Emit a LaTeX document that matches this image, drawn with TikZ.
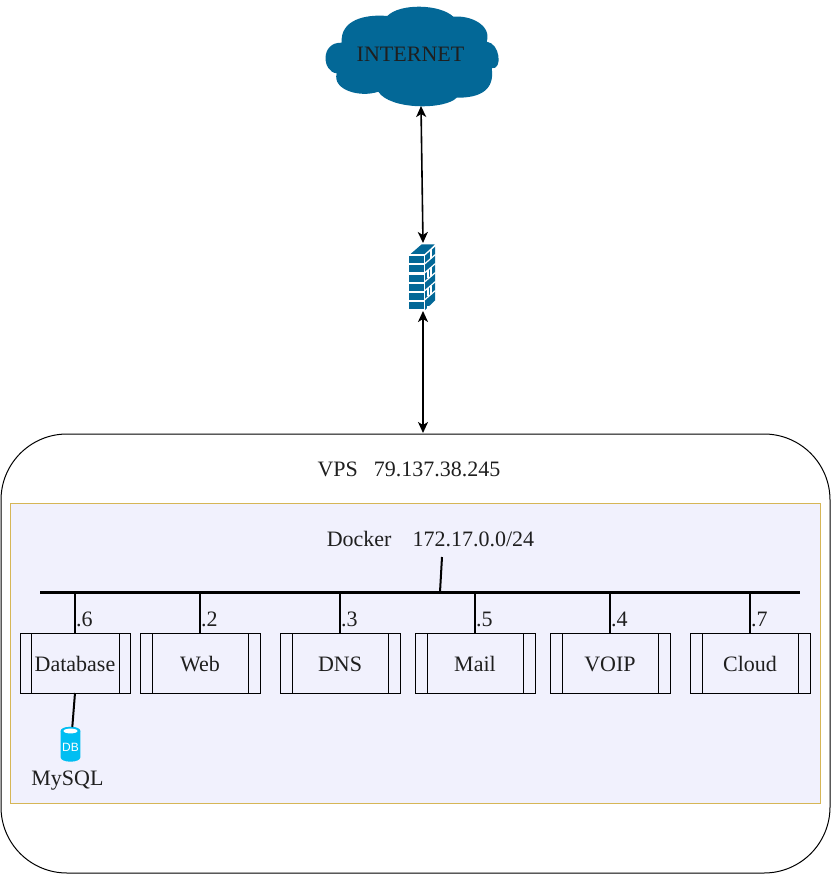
\documentclass[tikz,border=0pt]{standalone}
\usepackage{fontspec}
\setmainfont{Liberation Serif}
\newfontfamily\iconfont{Liberation Sans}
\usetikzlibrary{arrows.meta,calc,positioning}
\definecolor{cloudblue}{HTML}{036897}
\definecolor{dockerfill}{HTML}{F1F1FD}
\definecolor{dockerline}{HTML}{D6B656}
\definecolor{dbblue}{HTML}{00BEF2}
\tikzset{
    lbl/.style={font=\fontsize{22}{24}\selectfont, text=black!88, inner sep=0pt},
    procbox/.style={draw, lbl, minimum width=#1, minimum height=60pt, outer sep=0pt, line width=1pt,
        text height=16pt, text depth=0pt,
        path picture={
            \draw ($(path picture bounding box.north west)!0.1!(path picture bounding box.north east)$)
                -- ($(path picture bounding box.south west)!0.1!(path picture bounding box.south east)$);
            \draw ($(path picture bounding box.north west)!0.9!(path picture bounding box.north east)$)
                -- ($(path picture bounding box.south west)!0.9!(path picture bounding box.south east)$);
        }},
    link/.style={line width=2pt},
    dblarrow/.style={line width=1.6pt, {Stealth[length=11pt,width=10pt,inset=3pt]}-{Stealth[length=11pt,width=10pt,inset=3pt]}}
}
\begin{document}
\begin{tikzpicture}[x=1pt,y=-1pt,node distance=120pt,on grid]
    \useasboundingbox (0,0) rectangle (831,882);
    % outer boxes
    \node[draw, line width=1pt, rounded corners=66pt, minimum width=829pt, minimum height=439pt, outer sep=0pt] (vps) at (415.5,653.5) {};
    \node[draw=dockerline, fill=dockerfill, line width=1pt, minimum width=810pt, minimum height=300pt, outer sep=0pt] (docker) at (415,653) {};
    \node[lbl] (vpslabel) at (409,469) {VPS\hspace{16pt}79.137.38.245};
    \node[lbl] (dockerlabel) at (430.5,539) {Docker\hspace{21pt}172.17.0.0/24};
    % cloud
    \fill[cloudblue] (387.3,16) .. controls (400,3) and (440,4) .. (453.3,16.7)
        .. controls (470,15) and (492,25) .. (486.7,41.7)
        .. controls (500,43) and (503,70) .. (491.7,68.3)
        .. controls (495,90) and (480,98) .. (456.7,97.7)
        .. controls (445,110) and (390,110) .. (378.3,91.7)
        .. controls (360,98) and (332,90) .. (336.7,73.3)
        .. controls (322,72) and (320,42) .. (341.7,42.7)
        .. controls (340,20) and (365,14) .. (387.3,16) -- cycle;
    \node[lbl] (internet) at (410.5,54) {INTERNET};
    \coordinate (cloudbot) at (421,106);
    % firewall
    \fill[cloudblue] (410.5,254) -- (421.5,244.5) -- (434.5,244.5) -- (425,254) -- cycle;
    \foreach \rowy in {256,265,274.5,283.5,292.5,302}
        \fill[cloudblue] (408.5,\rowy) rectangle ++(15,7.2);
    \fill[cloudblue] (425,255.5) -- (435,246) -- (435,300.5) -- (425,310) -- cycle;
    \foreach \rowy in {0,9,18,27,36,45}
        \draw[white, line width=1.2pt] (424.5,255+\rowy) -- (435.5,245.5+\rowy);
    \foreach \rowy in {0,18,36}
        \draw[white, line width=1.2pt] (431,249.5+\rowy) -- (431,258+\rowy);
    \foreach \rowy in {9,27,45}
        \draw[white, line width=1.2pt] (428,261+\rowy) -- (428,269+\rowy);
    \coordinate (fwtop) at (423,243);
    \coordinate (fwbot) at (423,311);
    \coordinate (vpstop) at (423,433);
    \draw[dblarrow] (cloudbot) -- (fwtop);
    \draw[dblarrow] (fwbot) -- (vpstop);
    % bus and containers
    \coordinate (busleft) at (40,592);
    \coordinate (busright) at (800,592);
    \draw[line width=3pt] (busleft) -- (busright);
    \coordinate (dockertap) at (442,557);
    \coordinate (bustap) at (440,592);
    \draw[link] (dockertap) -- (bustap);
    \node[procbox=110pt] (dbbox) at (75,663) {Database};
    \node[procbox=120pt] [right=125pt of dbbox] (webbox) {Web};
    \node[procbox=120pt] [right=140pt of webbox] (dnsbox) {DNS};
    \node[procbox=120pt] [right=135pt of dnsbox] (mailbox) {Mail};
    \node[procbox=120pt] [right=135pt of mailbox] (voipbox) {VOIP};
    \node[procbox=120pt] [right=140pt of voipbox] (cloudbox) {Cloud};
    \foreach \boxname/\hostnum in {dbbox/6,webbox/2,dnsbox/3,mailbox/5,voipbox/4,cloudbox/7}{
        \draw[link] (\boxname.north) -- (\boxname.north |- busleft);
        \node[lbl, anchor=west] (num\boxname) at ([xshift=1pt,yshift=14pt]\boxname.north) {.\hostnum};
    }
    % mysql
    \fill[dbblue] (60.7,731) arc[start angle=180, end angle=360, x radius=9.8pt, y radius=-4.2pt]
        -- (80.3,757.5) arc[start angle=0, end angle=180, x radius=9.8pt, y radius=-4.2pt] -- cycle;
    \fill[dbblue] (70.5,731) ellipse[x radius=9.8pt, y radius=4.2pt];
    \fill[white] (70.5,731) ellipse[x radius=7pt, y radius=2.4pt];
    \node[font=\iconfont\fontsize{12}{13}\selectfont, text=white, inner sep=0pt] (dbicon) at (70.5,747) {DB};
    \coordinate (dbicontop) at (72.3,727);
    \draw[link] (dbbox.south) -- (dbicontop);
    \node[lbl] (mysql) at (67.5,780.5) {MySQL};
\end{tikzpicture}
\end{document}
